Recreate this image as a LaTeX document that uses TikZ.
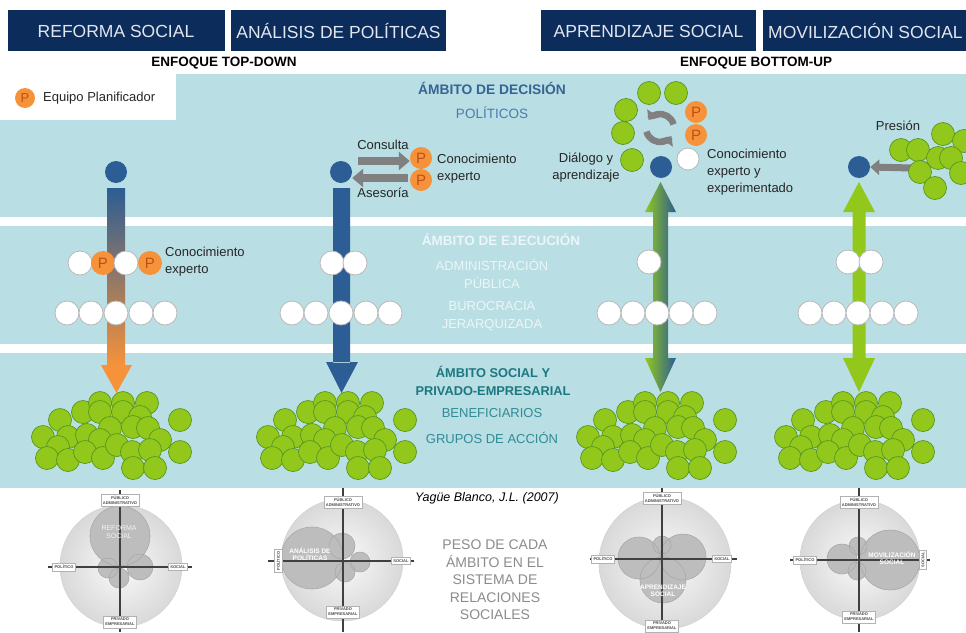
\documentclass[tikz,border=0pt]{standalone}
\usepackage{fontspec}
\setmainfont{Liberation Sans}
\usetikzlibrary{arrows.meta}
\definecolor{navy}{RGB}{12,44,92}
\definecolor{band}{RGB}{185,222,227}
\definecolor{dblue}{RGB}{44,93,148}
\definecolor{orng}{RGB}{246,146,58}
\definecolor{porng}{RGB}{190,80,22}
\definecolor{grn}{RGB}{146,200,28}
\definecolor{grnb}{RGB}{86,150,30}
\definecolor{garrow}{RGB}{128,128,128}
\definecolor{tealtxt}{RGB}{28,120,128}
\definecolor{tealtxtl}{RGB}{48,140,150}
\definecolor{bluetxt}{RGB}{55,100,150}
\definecolor{bluetxtl}{RGB}{75,125,172}
\definecolor{hdrtxt}{RGB}{226,230,238}
\definecolor{wtxt}{RGB}{236,246,248}
\definecolor{mauve}{RGB}{150,110,130}
\definecolor{pesotxt}{RGB}{140,140,140}
\newcommand\mycluster[1]{%
  \foreach \dx/\yy in {-56/420,-33/412,-16/403,7/403,31/403,-16/412,7/412,24/417,
     -73/437,-48/437,-29/435,-6/428,17/427,32/428,44/440,64/420,64/452,
     -58/447,-16/440,-69/458,-48/460,-31/452,-13/458,1/445,16/452,34/450,17/468,39/468}
    {\draw[gc] ({#1+\dx},\yy) circle (11.5pt);}}
\begin{document}
\begin{tikzpicture}[x=1pt,y=-1pt,
  hdrtext/.style={text=hdrtxt, font=\fontsize{17.5}{20}\selectfont, inner sep=0pt},
  dot/.style={circle, fill=dblue, minimum size=22pt, inner sep=0pt},
  wc/.style={circle, draw=gray!55, fill=white, line width=0.8pt, minimum size=24pt, inner sep=0pt},
  pc/.style={circle, fill=orng, minimum size=24pt, inner sep=0pt, text=porng, font=\fontsize{15}{15}\selectfont},
  gc/.style={fill=grn, draw=grnb, line width=0.7pt},
  txt/.style={font=\fontsize{13}{17}\selectfont, text=black!85, inner sep=0pt},
  gar/.style={draw=garrow, line width=8pt, -{Triangle[length=11pt,width=18pt]}},
  cyc/.style={draw=garrow, line width=6.5pt, -{Triangle[length=8pt,width=14pt]}},
  outerc/.style={inner color=gray!4, outer color=gray!30, draw=gray!35, line width=0.5pt},
  innerf/.style={fill=gray!52},
  innerd/.style={draw=gray!68, line width=0.6pt},
  axis/.style={draw=black!75, line width=1.1pt},
  lbl/.style={draw=gray!60, fill=white, font=\fontsize{4}{4.8}\selectfont\bfseries, text=black!70, inner sep=2pt, align=center},
  ctext/.style={text=white, font=\fontsize{6.5}{7.5}\selectfont\bfseries, align=center, inner sep=0pt}]
\useasboundingbox (0,0) rectangle (966,632);
\fill[white] (0,0) rectangle (966,632);
% bands
\fill[band] (0,74) rectangle (966,217);
\fill[white] (0,74) rectangle (176,120);
\fill[band] (0,226) rectangle (966,344);
\fill[band] (0,353) rectangle (966,488);
% headers
\fill[navy] (8,10) rectangle (225,51);
\fill[navy] (231,10) rectangle (446,51);
\fill[navy] (541,10) rectangle (756,51);
\fill[navy] (763,10) rectangle (966,51);
\node[hdrtext] (h1) at (116,31) {REFORMA SOCIAL};
\node[hdrtext] (h2) at (338.5,31) {ANÁLISIS DE POLÍTICAS};
\node[hdrtext] (h3) at (648.5,31) {APRENDIZAJE SOCIAL};
\node[hdrtext, anchor=west] (h4) at (768,31) {MOVILIZACIÓN SOCIAL};
\node[font=\fontsize{13.5}{16}\selectfont\bfseries, inner sep=0pt] (td) at (224,63) {ENFOQUE TOP-DOWN};
\node[font=\fontsize{13.5}{16}\selectfont\bfseries, inner sep=0pt] (bu) at (756,63) {ENFOQUE BOTTOM-UP};
% legend
\node[pc, minimum size=20pt, font=\fontsize{13}{13}\selectfont] (lp) at (25,98) {P};
\node[txt, anchor=west] (lt) at (43,98) {Equipo Planificador};
% central texts
\node[font=\fontsize{13.8}{16}\selectfont\bfseries, text=bluetxt, inner sep=0pt] (t1) at (492,88) {ÁMBITO DE DECISIÓN};
\node[font=\fontsize{13.5}{16}\selectfont, text=bluetxtl, inner sep=0pt] (t2) at (492,113) {POLÍTICOS};
\node[font=\fontsize{13.5}{16}\selectfont\bfseries, text=wtxt, inner sep=0pt] (t3) at (501,240) {ÁMBITO DE EJECUCIÓN};
\node[font=\fontsize{13}{17.5}\selectfont, text=wtxt, inner sep=0pt, align=center] (t4) at (492,274) {ADMINISTRACIÓN\\PÚBLICA};
\node[font=\fontsize{13}{17.5}\selectfont, text=wtxt, inner sep=0pt, align=center] (t5) at (492,316) {BUROCRACIA\\JERARQUIZADA};
\node[font=\fontsize{12.8}{18}\selectfont\bfseries, text=tealtxt, inner sep=0pt, align=center] (t6) at (493,381) {ÁMBITO SOCIAL Y\\PRIVADO-EMPRESARIAL};
\node[font=\fontsize{13}{16}\selectfont, text=tealtxtl, inner sep=0pt] (t7) at (492,413) {BENEFICIARIOS};
\node[font=\fontsize{13}{16}\selectfont, text=tealtxtl, inner sep=0pt] (t8) at (492,438) {GRUPOS DE ACCIÓN};

% ===== column 1: Reforma social =====
\node[dot] (d1) at (116,172) {};
\shade[top color=dblue, middle color=mauve, bottom color=orng] (107,188) rectangle (125,366);
\fill[orng] (101,365) -- (132,365) -- (116.5,393) -- cycle;
\node[wc] (c1a) at (80,263) {};
\node[pc] (c1b) at (103,263) {P};
\node[wc] (c1c) at (126,263) {};
\node[pc] (c1d) at (150,263) {P};
\node[txt, anchor=west, align=left] (c1t) at (165,262) {Conocimiento\\experto};
\foreach \i/\x in {1/67,2/91,3/116,4/141,5/165} \node[wc] (r1\i) at (\x,313) {};
\mycluster{116}

% ===== column 2: Analisis de politicas =====
\node[dot] (d2) at (341,172) {};
\fill[dblue] (333,188) rectangle (350,363) (326,362) -- (358,362) -- (341.5,393) -- cycle;
\node[pc, minimum size=22pt] (p2a) at (421,158) {P};
\node[pc, minimum size=22pt] (p2b) at (421,180) {P};
\coordinate (k1) at (358,161);
\coordinate (k2) at (408,178);
\draw[gar] (k1) -- (k1 -| p2a.west);
\draw[gar] (k2) -- (k2 -| d2.east);
\node[txt] (cons) at (383,145) {Consulta};
\node[txt] (ases) at (383,193) {Asesoría};
\node[txt, anchor=west, align=left] (c2t) at (437,169) {Conocimiento\\experto};
\node[wc] (c2a) at (332,263) {};
\node[wc] (c2b) at (355,263) {};
\foreach \i/\x in {1/292,2/316,3/341,4/366,5/390} \node[wc] (r2\i) at (\x,313) {};
\mycluster{341}

% ===== column 3: Aprendizaje social =====
\shade[left color=grn, right color=dblue]
  (645,212) -- (660.5,182) -- (676,212) -- (668,212) -- (668,358) -- (676,358) -- (660.5,392)
  -- (645,358) -- (653,358) -- (653,212) -- cycle;
\node[dot] (d3) at (661,167) {};
\foreach \x/\y in {649/93,676/93,626/110,623/133,632/160} \draw[gc] (\x,\y) circle (11.5pt);
\node[pc, minimum size=22pt] (p3a) at (696,112) {P};
\node[pc, minimum size=22pt] (p3b) at (696,135) {P};
\node[wc, minimum size=22pt] (w3) at (688,159) {};
\draw[cyc] (660,128) ++(195:14pt) arc[start angle=195, end angle=325, radius=14pt];
\draw[cyc] (660,128) ++(15:14pt) arc[start angle=15, end angle=145, radius=14pt];
\node[txt, align=center] (c3l) at (586,168) {Diálogo y\\aprendizaje};
\node[txt, anchor=west, align=left] (c3r) at (707,172) {Conocimiento\\experto y\\experimentado};
\node[wc] (c3a) at (649,262) {};
\foreach \i/\x in {1/609,2/633,3/657,4/681,5/705} \node[wc] (r3\i) at (\x,313) {};
\mycluster{661}

% ===== column 4: Movilizacion social =====
\fill[grn]
  (843,212) -- (859,182) -- (875,212) -- (865.5,212) -- (865.5,358) -- (875,358) -- (859,392)
  -- (843,358) -- (852.5,358) -- (852.5,212) -- cycle;
\node[dot] (d4) at (859,167) {};
\coordinate (pr) at (912,168);
\draw[draw=garrow, line width=7pt, -{Triangle[length=9pt,width=15pt]}] (pr) -- (d4.east);
\node[txt] (pres) at (898,126) {Presión};
\foreach \x/\y in {943/134,964/141,901/150,918/150,938/158,951/158,920/172,961/173,935/188} \draw[gc] (\x,\y) circle (11.5pt);
\node[wc] (c4a) at (848,262) {};
\node[wc] (c4b) at (871,262) {};
\foreach \i/\x in {1/810,2/834,3/858,4/882,5/906} \node[wc] (r4\i) at (\x,313) {};
\mycluster{859}

% ===== bottom charts =====
\node[font=\fontsize{12.5}{15}\selectfont\itshape, inner sep=0pt] (src) at (487,498) {Yagüe Blanco, J.L. (2007)};
\node[font=\fontsize{14}{17.5}\selectfont, text=pesotxt, inner sep=0pt, align=center] (peso) at (495,580) {PESO DE CADA\\ÁMBITO EN EL\\SISTEMA DE\\RELACIONES\\SOCIALES};

% chart 1
\shade[outerc] (121,566) circle (61pt);
\fill[innerf] (140,567) circle (13pt) (108,568) circle (10pt) (119,578) circle (10pt) (120,536) circle (30pt);
\draw[innerd] (140,567) circle (13pt) (108,568) circle (10pt) (119,578) circle (10pt) (120,536) circle (30pt);
\draw[axis] (120,490) -- (120,632);
\draw[axis] (48,567) -- (192,567);
\node[text=white!90!gray, font=\fontsize{7}{8.5}\selectfont, align=center, inner sep=0pt] (ch1t) at (119,532) {REFORMA\\SOCIAL};
\node[lbl] (ch1n) at (120,500) {PÚBLICO\\ADMINISTRATIVO};
\node[lbl] (ch1s) at (120,622) {PRIVADO\\EMPRESARIAL};
\node[lbl] (ch1w) at (64,567) {POLÍTICO};
\node[lbl] (ch1e) at (178,567) {SOCIAL};

% chart 2
\shade[outerc] (342,560) circle (61pt);
\fill[innerf] (342,546) circle (13pt) (360,562) circle (10pt) (345,572) circle (10pt) (312,558) circle (31pt);
\draw[innerd] (342,546) circle (13pt) (360,562) circle (10pt) (345,572) circle (10pt) (312,558) circle (31pt);
\draw[axis] (343,488) -- (343,632);
\draw[axis] (268,561) -- (414,561);
\node[ctext] (ch2t) at (310,554) {ANÁLISIS DE\\POLÍTICAS};
\node[lbl] (ch2n) at (343,502) {PÚBLICO\\ADMINISTRATIVO};
\node[lbl] (ch2s) at (343,612) {PRIVADO\\EMPRESARIAL};
\node[lbl, rotate=90] (ch2w) at (278,561) {POLÍTICO};
\node[lbl] (ch2e) at (401,561) {SOCIAL};

% chart 3
\shade[outerc] (665,563) circle (66pt);
\fill[innerf] (662,545) circle (9pt) (639,558) circle (21pt) (683,557) circle (23pt) (663,580) circle (23pt);
\draw[innerd] (662,545) circle (9pt) (639,558) circle (21pt) (683,557) circle (23pt) (663,580) circle (23pt);
\draw[axis] (662,488) -- (662,632);
\draw[axis] (590,559) -- (737,559);
\node[ctext] (ch3t) at (663,591) {APRENDIZAJE\\SOCIAL};
\node[lbl] (ch3n) at (662,498) {PÚBLICO\\ADMINISTRATIVO};
\node[lbl] (ch3s) at (662,626) {PRIVADO\\EMPRESARIAL};
\node[lbl] (ch3w) at (603,559) {POLÍTICO};
\node[lbl] (ch3e) at (722,559) {SOCIAL};

% chart 4
\shade[outerc] (860,560) circle (60pt);
\fill[innerf] (842,559) circle (15pt) (858,546) circle (9pt) (857,571) circle (9pt) (890,560) circle (30pt);
\draw[innerd] (842,559) circle (15pt) (858,546) circle (9pt) (857,571) circle (9pt) (890,560) circle (30pt);
\draw[axis] (859,488) -- (859,632);
\draw[axis] (790,560) -- (930,560);
\node[ctext] (ch4t) at (892,558) {MOVILIZACIÓN\\SOCIAL};
\node[lbl] (ch4n) at (859,502) {PÚBLICO\\ADMINISTRATIVO};
\node[lbl] (ch4s) at (859,617) {PRIVADO\\EMPRESARIAL};
\node[lbl] (ch4w) at (805,560) {POLÍTICO};
\node[lbl, rotate=90] (ch4e) at (923,560) {SOCIAL};
\end{tikzpicture}
\end{document}
